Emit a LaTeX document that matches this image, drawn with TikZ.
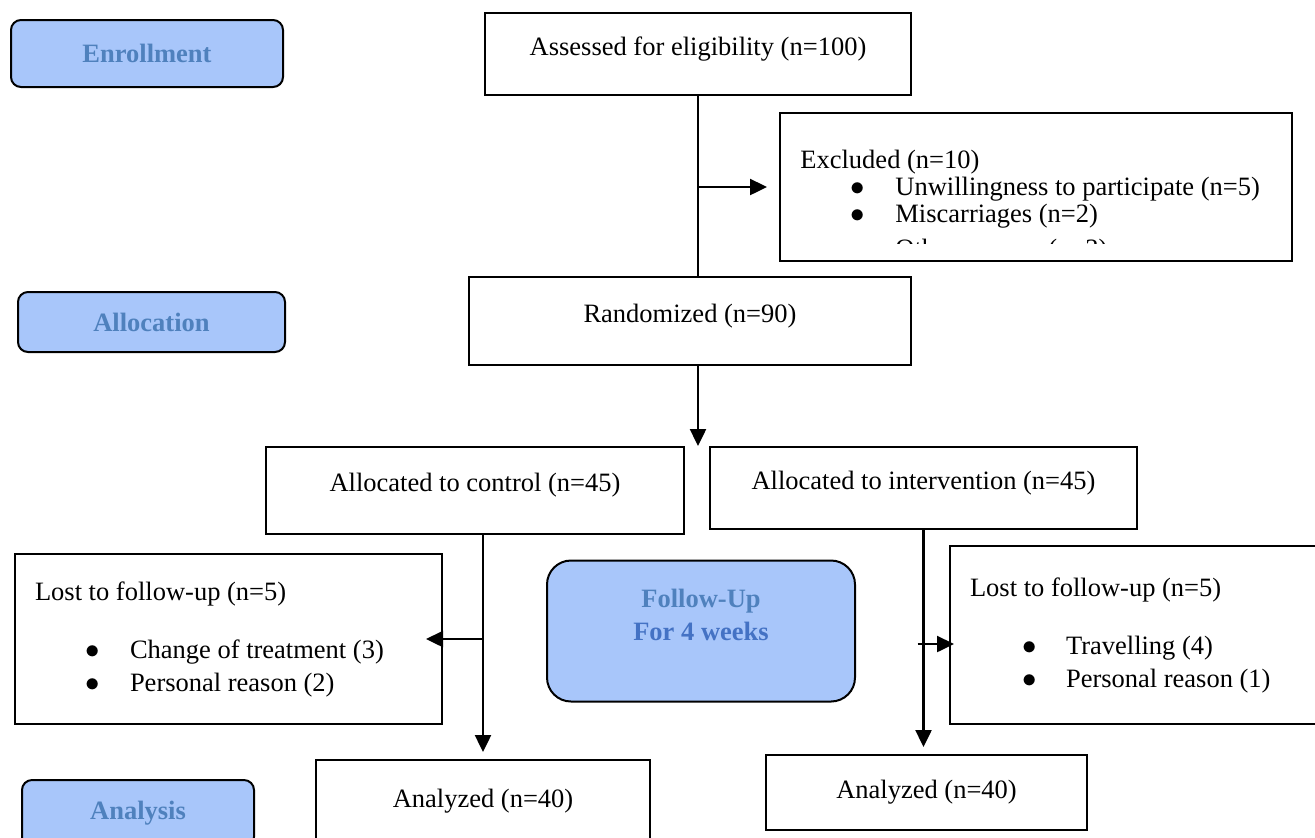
\documentclass[tikz,border=0pt]{standalone}
\usepackage{fontspec}
\setmainfont{Liberation Serif}
\usetikzlibrary{arrows.meta,calc}
\definecolor{phasefill}{HTML}{A8C6FA}
\definecolor{phasetext}{HTML}{4F81BD}
\definecolor{phasedark}{HTML}{4472C4}

\begin{document}
\begin{tikzpicture}[x=0.5pt,y=-0.5pt,
		box/.style={draw,line width=1pt,inner sep=0pt,font=\fontsize{13.25}{16.5}\selectfont},
		midbox/.style={box,text depth=8pt},
		listbox/.style={box,align=flush left,inner xsep=10pt},
		phase/.style={draw,line width=1pt,rounded corners=5pt,fill=phasefill,text=phasetext,inner sep=0pt,font=\fontsize{13.25}{16.5}\selectfont\bfseries},
		arr/.style={line width=1.2pt,-{Triangle[length=8.5pt,width=8pt]}}]
		\useasboundingbox (0,0) rectangle (1315,837);

		\node[phase,minimum width=136pt,minimum height=33.5pt]					(enroll)	at (147,53.5)	{Enrollment};
		\node[phase,minimum width=133.5pt,minimum height=30pt]					(alloc)		at (151.5,322)	{Allocation};
		\node[phase,rounded corners=12pt,minimum width=154pt,minimum height=70.5pt,align=center]	(follow)	at (701,631)	{Follow-Up\\\textcolor{phasedark}{For 4 weeks}\\\mbox{}};
		\node[phase,minimum width=116pt,minimum height=33.5pt]					(analysis)	at (138,813.5)	{Analysis};

		\node[midbox,minimum width=213pt,minimum height=41pt]		(assess)	at (698,54)		{Assessed for eligibility (n=100)};
		\node[box,minimum width=256pt,minimum height=74pt]			(excl)		at (1036,187)	{};
		\node[midbox,minimum width=221pt,minimum height=44pt]		(random)	at (690,321)	{Randomized (n=90)};
		\node[midbox,minimum width=209pt,minimum height=43.5pt]		(control)	at (475,490.5)	{Allocated to control (n=45)};
		\node[midbox,minimum width=213.5pt,minimum height=41pt]		(interv)	at (923.5,488)	{Allocated to intervention (n=45)};
		\node[listbox,text width=193.5pt,minimum height=85pt]		(lostL)		at (228.5,639)	{Lost to follow-up (n=5)\\[12.5pt]
			\hspace*{25pt}\makebox[22.5pt][l]{$\bullet$}Change of treatment (3)\\
			\hspace*{25pt}\makebox[22.5pt][l]{$\bullet$}Personal reason (2)};
		\node[listbox,text width=165pt,minimum height=89pt]			(lostR)		at (1135,635)	{Lost to follow-up (n=5)\\[12.5pt]
			\hspace*{26pt}\makebox[22pt][l]{$\bullet$}Travelling (4)\\
			\hspace*{26pt}\makebox[22pt][l]{$\bullet$}Personal reason (1)};
		\node[box,minimum width=167pt,minimum height=41pt]			(anaL)		at (483,801)	{Analyzed (n=40)};
		\node[box,minimum width=160.5pt,minimum height=37.5pt]		(anaR)		at (926.5,792.5)	{Analyzed (n=40)};

		\begin{scope}
			\clip (excl.north west) rectangle ($(excl.south east)+(0,-19)$);
			\node[anchor=north west,align=flush left,inner sep=0pt,font=\fontsize{13.25}{13.5}\selectfont] (excltxt) at ($(excl.north west)+(21,38)$) {Excluded (n=10)\\
				\hspace*{25pt}\makebox[22.5pt][l]{$\bullet$}Unwillingness to participate (n=5)\\
				\hspace*{25pt}\makebox[22.5pt][l]{$\bullet$}Miscarriages (n=2)\\[4pt]
				\hspace*{25pt}\makebox[22.5pt][l]{$\bullet$}Other reasons (n=3)};
		\end{scope}

		\draw[line width=1.2pt] (assess.south) -- (assess.south |- random.north);
		\draw[arr] (assess.south |- excl.west) -- ($(excl.west)+(-12,0)$);
		\draw[arr] (assess.south |- random.south) -- (assess.south |- interv.north);
		\draw[arr] (anaL.north |- control.south) -- ($(anaL.north)+(0,-7)$);
		\draw[arr] (anaL.north |- lostL.east) -- ($(lostL.east)+(-17,0)$);
		\draw[arr] (interv.south) -- ($(interv.south |- anaR.north)+(0,-7)$);
		\draw[arr] ($(interv.south |- lostR.east)+(-6,9)$) -- ($(lostR.west)+(5,9)$);
	\end{tikzpicture}
\end{document}
